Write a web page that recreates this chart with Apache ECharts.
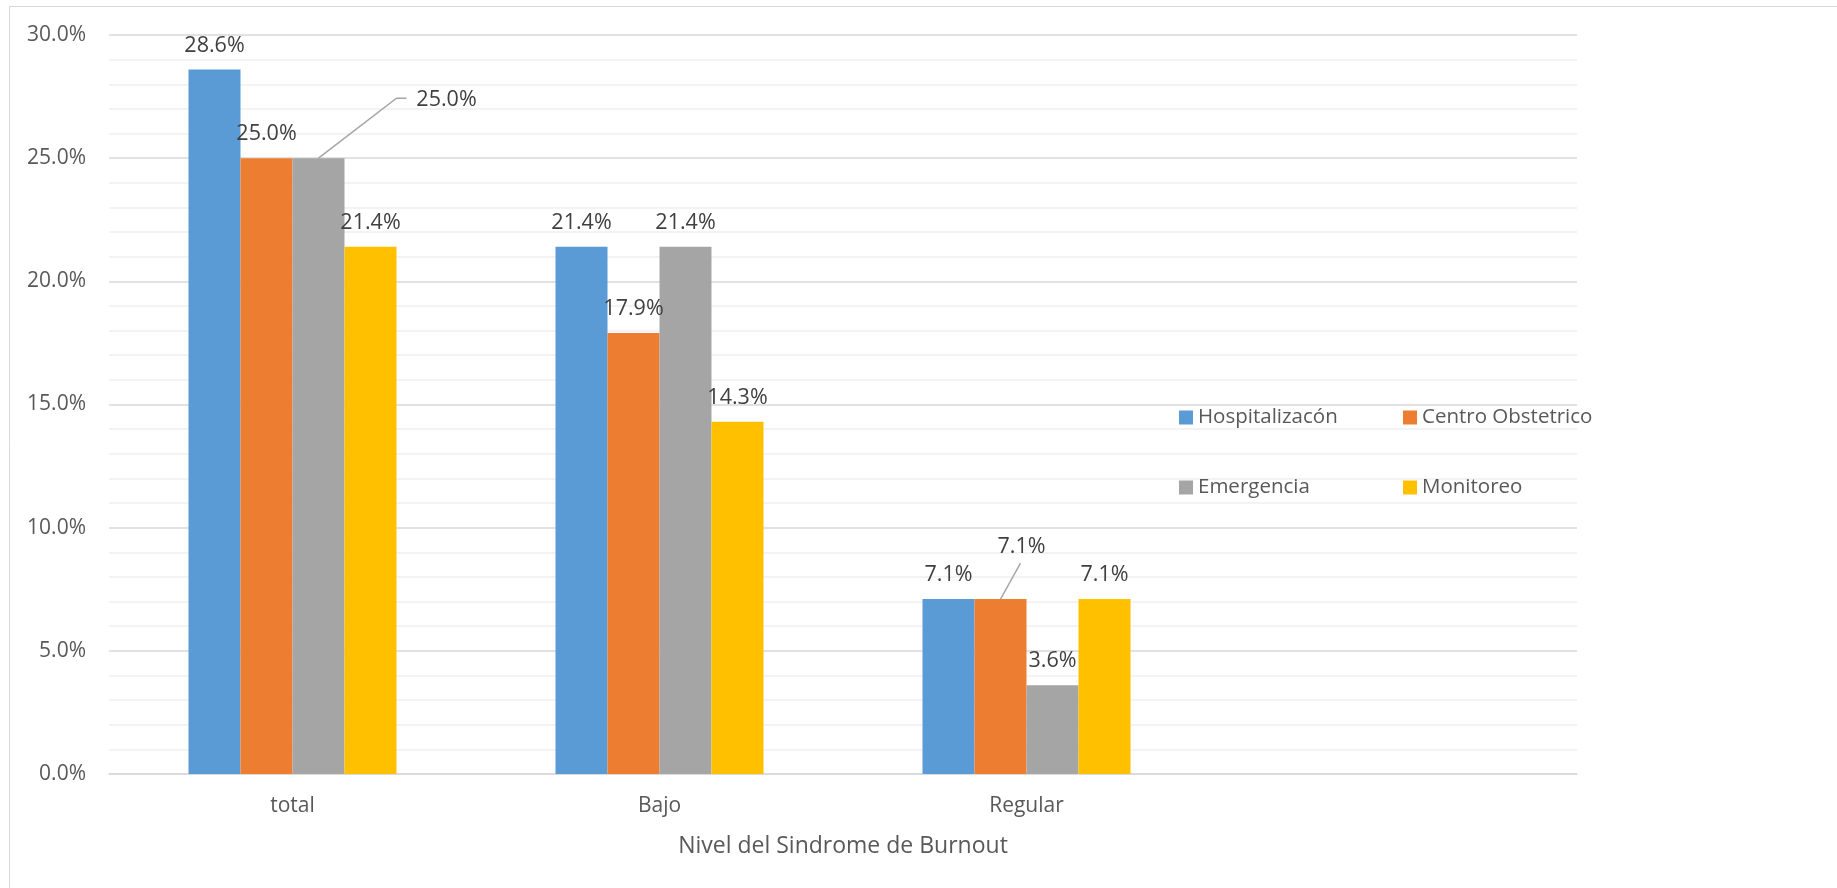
<!DOCTYPE html>
<html>
<head>
<meta charset="utf-8">
<script src="https://cdn.jsdelivr.net/npm/echarts@6/dist/echarts.min.js"></script>
<style>
  html, body { margin: 0; padding: 0; background: #ffffff; }
  #chart { width: 1837px; height: 888px; }
</style>
</head>
<body>
<div id="chart"></div>
<script>
// Categories on the x axis (the fourth slot is left empty for the legend)
const categories = ['total', 'Bajo', 'Regular', ''];
const seriesNames = ['Hospitalizacón', 'Centro Obstetrico', 'Emergencia', 'Monitoreo'];

// Percentages per service
const hospitalizacion = [28.6, 21.4, 7.1];
const centroObstetrico = [25.0, 17.9, 7.1];
const emergencia = [25.0, 21.4, 3.6];
const monitoreo = [21.4, 14.3, 7.1];

// Value axis ticks (percent)
const yMin = 0;
const yMax = 30;
const yStep = 5;

const axisTitle = 'Nivel del Sindrome de Burnout';

const palette = ['#5B9BD5', '#ED7D31', '#A5A5A5', '#FFC000'];
const FONT = '"Open Sans", "DejaVu Sans", sans-serif';

// Labels moved off their bar, with a leader line back to the bar top
const calloutStyle = [
  { series: 2, index: 0, dx: 128, dy: -34, path: [[78, -60], [88, -60]] },
  { series: 1, index: 2, dx: 21, dy: -28, path: [[20, -36]] }
];

// Legend grid: two columns, two rows
const legendSlots = [
  { left: 1179, top: 407 }, { left: 1403, top: 407 },
  { left: 1179, top: 477 }, { left: 1403, top: 477 }
];

const chart = echarts.init(document.getElementById('chart'), null, { renderer: 'canvas' });

const valueLists = [hospitalizacion, centroObstetrico, emergencia, monitoreo];

function findCallout(s, i) {
  return calloutStyle.find(c => c.series === s && c.index === i);
}

const series = valueLists.map((vals, s) => ({
  name: seriesNames[s],
  type: 'bar',
  data: vals,
  barWidth: 52,
  barGap: '0%',
  itemStyle: { color: palette[s] },
  label: {
    show: true,
    position: 'top',
    distance: 13,
    fontFamily: FONT,
    fontSize: 21.5,
    color: '#404040',
    formatter: p => p.value.toFixed(1) + '%'
  },
  labelLayout: params => {
    const c = findCallout(params.seriesIndex, params.dataIndex);
    return c ? { dx: c.dx, dy: c.dy } : {};
  }
}));

const legends = seriesNames.map((name, s) => ({
  data: [name],
  left: legendSlots[s].left,
  top: legendSlots[s].top,
  padding: 0,
  icon: 'rect',
  itemWidth: 14,
  itemHeight: 14,
  selectedMode: false,
  textStyle: { fontFamily: FONT, fontSize: 20.5, color: '#595959' }
}));

const option = {
  animation: false,
  backgroundColor: '#ffffff',
  grid: { left: 109, right: 260, top: 35, bottom: 114, containLabel: false },
  legend: legends,
  xAxis: {
    type: 'category',
    data: categories,
    axisLine: { show: true, lineStyle: { color: '#d9d9d9', width: 1.5 } },
    axisTick: { show: false },
    axisLabel: { fontFamily: FONT, fontSize: 21, color: '#595959', margin: 22 },
    name: axisTitle,
    nameLocation: 'middle',
    nameGap: 61,
    nameTextStyle: { fontFamily: FONT, fontSize: 23, color: '#595959' }
  },
  yAxis: {
    type: 'value',
    min: yMin,
    max: yMax,
    interval: yStep,
    axisLine: { show: false },
    axisTick: { show: false },
    axisLabel: {
      fontFamily: FONT, fontSize: 21, color: '#595959', margin: 23,
      formatter: v => v.toFixed(1) + '%'
    },
    splitLine: { show: true, lineStyle: { color: '#d9d9d9', width: 1.5 } },
    minorTick: { show: false, splitNumber: 5 },
    minorSplitLine: { show: true, lineStyle: { color: '#f0f0f0', width: 1.5 } }
  },
  graphic: [{
    id: 'frame',
    type: 'rect',
    silent: true,
    z: -10,
    shape: { x: 9.5, y: 6.5, width: 1900, height: 1000 },
    style: { fill: 'none', stroke: '#d9d9d9', lineWidth: 1 }
  }],
  series: series
};

chart.setOption(option);

// Leader lines, anchored at the top centre of each moved label's bar
const leaders = calloutStyle.map((c, k) => {
  const layout = chart.getModel().getSeriesByIndex(c.series).getData().getItemLayout(c.index);
  const cx = layout.x + layout.width / 2;
  const top = Math.min(layout.y, layout.y + layout.height);
  const pts = [[cx, top]].concat(c.path.map(p => [cx + p[0], top + p[1]]));
  return {
    id: 'leader' + k,
    type: 'polyline',
    silent: true,
    z: 100,
    shape: { points: pts },
    style: { stroke: '#a6a6a6', lineWidth: 1.5, fill: null }
  };
});
chart.setOption({ graphic: leaders });
</script>
</body>
</html>
